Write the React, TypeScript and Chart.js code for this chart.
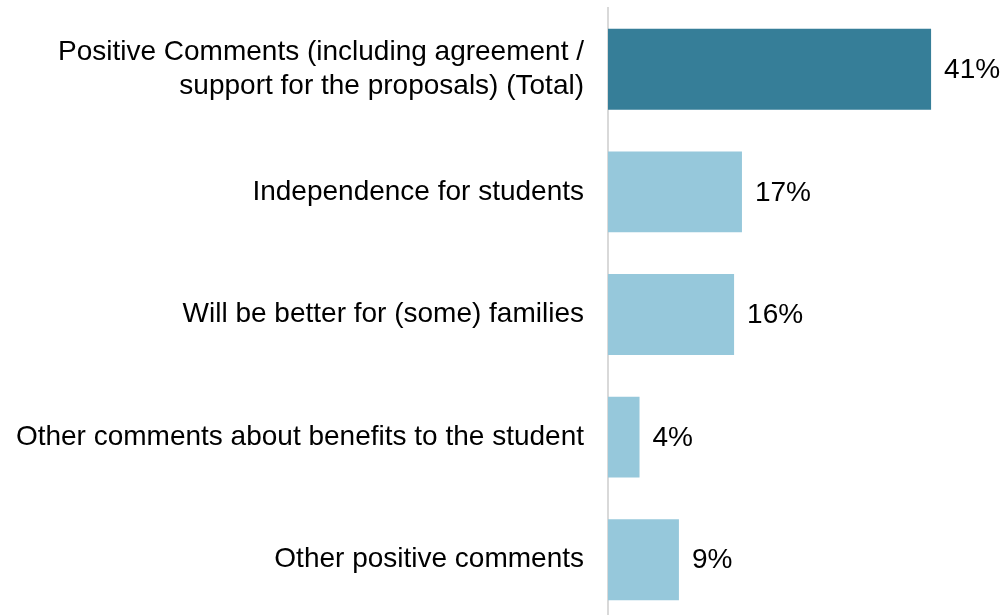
import React, { useEffect, useRef } from "react";
import { Chart, registerables } from "chart.js";

Chart.register(...registerables);

const categories: (string | string[])[] = [
  ["Positive Comments (including agreement /", "support for the proposals) (Total)"],
  "Independence for students",
  "Will be better for (some) families",
  "Other comments about benefits to the student",
  "Other positive comments",
];
const values = [41, 17, 16, 4, 9];
const barColors = ["#367E98", "#96C8DB", "#96C8DB", "#96C8DB", "#96C8DB"];

const FONT = "'Liberation Sans', Arial, sans-serif";

const valueLabels = {
  id: "valueLabels",
  afterDatasetsDraw(chart: any) {
    const ctx = chart.ctx;
    const meta = chart.getDatasetMeta(0);
    ctx.save();
    ctx.font = "28px " + FONT;
    ctx.fillStyle = "#000000";
    ctx.textAlign = "left";
    ctx.textBaseline = "middle";
    meta.data.forEach((bar: any, i: number) => {
      ctx.fillText(values[i] + "%", bar.x + 13, bar.y + 1);
    });
    ctx.restore();
  },
};

export default function App() {
  const ref = useRef<HTMLCanvasElement | null>(null);
  useEffect(() => {
    if (!ref.current) return;
    const chart = new Chart(ref.current, {
      type: "bar",
      data: {
        labels: categories,
        datasets: [
          {
            data: values,
            backgroundColor: barColors,
            borderWidth: 0,
            barPercentage: 0.66,
            categoryPercentage: 1,
          },
        ],
      },
      options: {
        indexAxis: "y",
        animation: false,
        responsive: false,
        maintainAspectRatio: false,
        layout: { padding: { top: 8, right: 1, bottom: 0, left: 0 } },
        plugins: { legend: { display: false }, tooltip: { enabled: false } },
        scales: {
          x: {
            display: false,
            min: 0,
            max: 50,
            grid: { display: false },
          },
          y: {
            grid: { display: false, drawTicks: false },
            border: { display: true, color: "#D9D9D9", width: 2 },
            afterFit(scale: any) {
              scale.width = 608;
              scale.paddingTop = 0;
              scale.paddingBottom = 0;
            },
            ticks: {
              color: "#000000",
              padding: 24,
              font: { family: FONT, size: 28, lineHeight: 1.2 },
            },
          },
        },
      },
      plugins: [valueLabels],
    });
    return () => chart.destroy();
  }, []);
  return (
    <div style={{ position: "absolute", left: 0, top: 0, width: 1003, height: 621 }}>
      <canvas ref={ref} width={1003} height={621} style={{ width: 1003, height: 621 }} />
    </div>
  );
}
